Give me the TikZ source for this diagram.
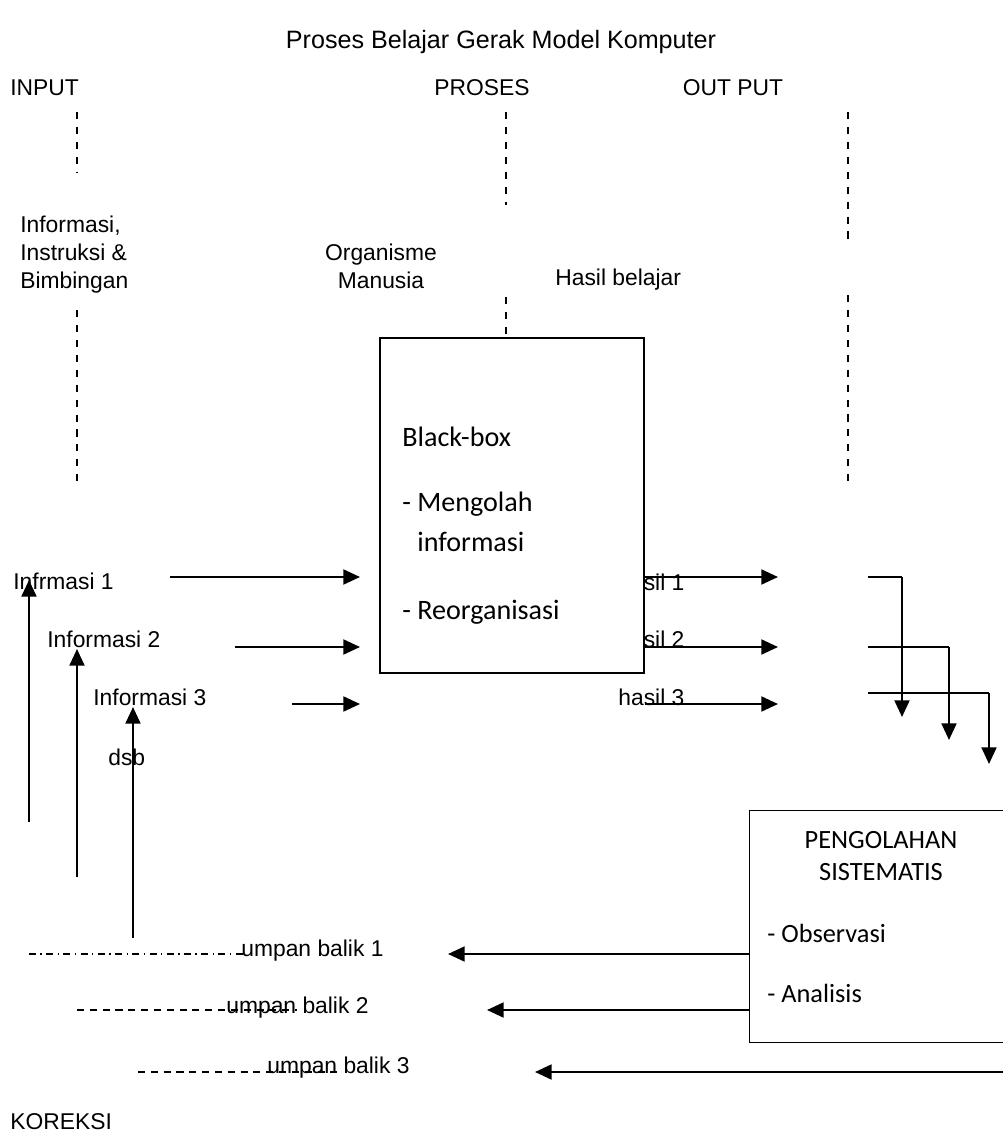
\documentclass[tikz,border=0pt]{standalone}
\usepackage{fontspec}
\setmainfont{Liberation Sans}
\newfontfamily\boxfont{Carlito}
\usetikzlibrary{arrows.meta}

\begin{document}
\begin{tikzpicture}[x=0.02cm, y=-0.02cm,
  lbl/.style={inner sep=0pt, font=\fontsize{13}{15.9}\selectfont},
  boxlbl/.style={inner sep=0pt, anchor=west, font=\boxfont\fontsize{16}{18}\selectfont},
  guide/.style={line width=0.6pt, dash pattern=on 4pt off 4.5pt},
  link/.style={line width=1.3pt, -{Triangle[length=9.5pt,width=8.5pt]}},
  stub/.style={line width=0.7pt},
  fbdash/.style={line width=0.6pt, dash pattern=on 4pt off 3.3pt},
  fbdot/.style={line width=0.6pt, dash pattern=on 4pt off 2.5pt on 0.8pt off 2.5pt}]
  \clip (0,0) rectangle (1003,1135);
  \fill[white] (0,0) rectangle (1003,1135);

  \node[lbl, font=\fontsize{14.3}{17}\selectfont] (title) at (501,42) {Proses Belajar Gerak Model Komputer};
  \node[lbl, anchor=west] (input) at (10,88) {INPUT};
  \node[lbl] (proses) at (482,88) {PROSES};
  \node[lbl] (output) at (733,88) {OUT PUT};

  \draw[guide] (77,112) -- (77,173);
  \draw[guide] (77,310) -- (77,485);
  \draw[guide] (506,112) -- (506,205);
  \draw[guide] (506,297) -- (506,347);
  \draw[guide] (848,112) -- (848,245);
  \draw[guide] (848,295) -- (848,485);

  \node[lbl, anchor=west, align=left] (bimbingan) at (20,255) {Informasi,\\Instruksi \&\\Bimbingan};
  \node[lbl, align=center] (organisme) at (381,266) {Organisme\\Manusia};
  \node[lbl, anchor=west] (hasilbelajar) at (555,280) {Hasil belajar};

  % hasil labels sit partly under the box
  \node[lbl, anchor=west] (hasil1) at (618,582) {hasil 1};
  \node[lbl, anchor=west] (hasil2) at (618,639) {hasil 2};
  \node[lbl, anchor=west] (hasil3) at (618,697) {hasil 3};

  \node[draw, fill=white, line width=0.8pt, minimum width=5.28cm, minimum height=6.7cm] (blackbox) at (512,505.5) {};
  \node[boxlbl] (bbtitle) at (402,437) {Black-box};
  \node[boxlbl] (bbolah) at (402,504) {- Mengolah};
  \node[boxlbl] (bbinfo) at (417,542) {informasi};
  \node[boxlbl] (bbreorg) at (402,612) {- Reorganisasi};

  \node[lbl, anchor=west] (info1) at (13,581) {Infrmasi 1};
  \node[lbl, anchor=west] (info2) at (47,639) {Informasi 2};
  \node[lbl, anchor=west] (info3) at (93,697) {Informasi 3};
  \node[lbl, anchor=west] (dsb) at (108,757) {dsb};

  \foreach \i/\y/\x in {1/577/170, 2/647/235, 3/704/292} {
    \coordinate (ins\i) at (\x,\y);
    \coordinate (ine\i) at (360,\y);
    \draw[link] (ins\i) -- (ine\i);
  }
  \foreach \i/\y in {1/577, 2/647, 3/704} {
    \coordinate (outs\i) at (645,\y);
    \coordinate (oute\i) at (778,\y);
    \draw[link] (outs\i) -- (oute\i);
  }
  \foreach \i/\y/\x/\t in {1/577/902/717, 2/647/949/740, 3/693/989/764} {
    \coordinate (rs\i) at (868,\y);
    \coordinate (rc\i) at (\x,\y);
    \coordinate (rt\i) at (\x,\t);
    \draw[stub] (rs\i) -- (rc\i);
    \draw[link] (rc\i) -- (rt\i);
  }
  \foreach \i/\x/\b/\t in {1/29/822/580, 2/77/877/649, 3/133/938/707} {
    \coordinate (up\i) at (\x,\b);
    \coordinate (ut\i) at (\x,\t);
    \draw[link] (up\i) -- (ut\i);
  }

  \node[draw, line width=0.8pt, minimum width=5.4cm, minimum height=4.64cm, anchor=north west] (olah) at (749,810) {};
  \node[inner sep=0pt, align=center, font=\boxfont\fontsize{15}{18.1}\selectfont] (olahtitle) at (881,856) {PENGOLAHAN\\SISTEMATIS};
  \node[boxlbl, font=\boxfont\fontsize{15}{18}\selectfont] (observasi) at (767,933) {- Observasi};
  \node[boxlbl, font=\boxfont\fontsize{15}{18}\selectfont] (analisis) at (767,993) {- Analisis};

  \node[lbl, anchor=west] (umpan1) at (241,951) {umpan balik 1};
  \node[lbl, anchor=west] (umpan2) at (226,1008) {umpan balik 2};
  \node[lbl, anchor=west] (umpan3) at (267,1068) {umpan balik 3};

  \coordinate (fb3) at (1003,1072);
  \draw[link] (olah.west |- 0,954) -- (448,954);
  \draw[link] (olah.west |- 0,1010) -- (487,1010);
  \draw[link] (fb3) -- (535,1072);

  \draw[fbdot] (29,954) -- (245,954);
  \draw[fbdash] (77,1010) -- (297,1010);
  \draw[fbdash] (138,1072) -- (340,1072);

  \node[lbl, anchor=west] (koreksi) at (10,1122) {KOREKSI};
\end{tikzpicture}
\end{document}
